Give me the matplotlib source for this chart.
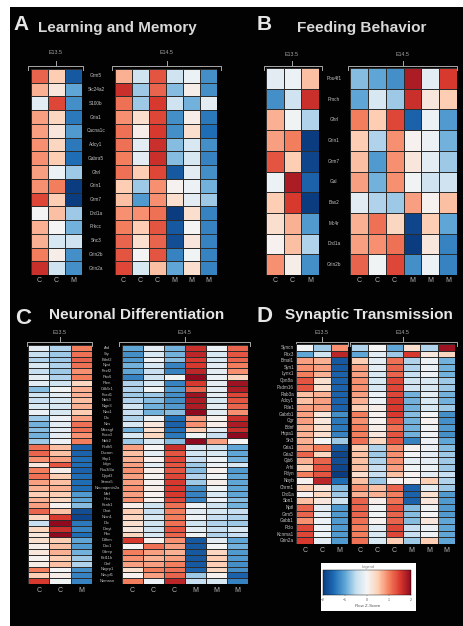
import matplotlib
matplotlib.use('Agg')
import matplotlib.pyplot as plt
import numpy as np
from matplotlib.cm import ScalarMappable
from matplotlib.colors import LinearSegmentedColormap, Normalize

plt.rcParams['font.family'] = ['Liberation Sans', 'DejaVu Sans']

W, H = 463, 626

samples_e13 = ['C', 'C', 'M']
samples_e14 = ['C', 'C', 'C', 'M', 'M', 'M']

# panel A
genes_a = ['Grm5', 'Slc24a2', 'S100b', 'Gria1', 'Cacna1c', 'Adcy1', 'Gabra5', 'Ghrl',
           'Grin1', 'Grm7', 'Drd1a', 'Prkcc', 'Shc3', 'Grin2b', 'Grin2a']
a_e13 = [[1.2, .5, -1.7], [.7, .2, -1.0], [-.2, 1.4, -1.2], [.8, .4, -1.4], [.8, .2, -1.1],
         [.9, .4, -1.4], [.9, .5, -1.5], [.8, -.1, -.7], [.9, 1.0, -2.0], [1.4, .5, -2.0],
         [0, .6, -.7], [.7, 0, -.9], [.7, -.3, -.4], [1.0, .1, -1.2], [1.6, -.4, -1.2]]
a_e14 = [[.7, -.4, 1.3, -.4, -.1, -1.2], [1.6, -.7, 1.2, -.8, .1, -1.2], [1.1, -.7, 1.5, -.4, -.9, -.2],
         [.9, .3, 1.4, -1.2, .1, -1.4], [1.1, .1, 1.5, -1.2, .3, -1.5], [1.1, -.2, 1.6, -.8, -.3, -1.2],
         [1.0, -.2, 1.6, -.8, -.3, -1.3], [1.1, .5, 1.4, -1.7, -.2, -1.2], [.5, -.7, .9, .05, -.1, -.9],
         [.6, -1.1, .9, .3, -.2, -.7], [.9, .9, 1.1, -2, .3, -1.3], [1.0, .5, 1.3, -1.7, 0, -1.3],
         [1.2, .3, 1.2, -1.8, .2, -1.3], [1.3, 0, 1.3, -1.3, -.05, -1.3], [1.4, -.3, .6, -1.0, .3, -1.3]]

# panel B
genes_b = ['Pou4f1', 'Pmch', 'Ghrl', 'Grin1', 'Grm7', 'Gal', 'Bax2', 'Mc4r', 'Drd1a', 'Grin2b']
b_e13 = [[-.2, -.1, .6], [-1.2, -.4, 1.6], [.7, -.05, -.6], [.8, 1.0, -2], [1.3, .5, -1.9],
         [-.1, 1.8, -1.6], [.5, 1.5, -2], [.3, .7, -1.1], [.05, .6, -.6], [.9, .1, -1.2]]
b_e14 = [[-.8, -1.0, -1.2, 1.8, -.2, 1.5], [-1.0, -.3, -.7, 1.6, .2, .5], [1.0, .5, 1.4, -1.6, -.1, -1.1],
         [.5, -.6, .9, .05, -.1, -.9], [.6, -1.1, .9, .2, -.2, -.7], [.8, -.9, .9, -.05, -.4, -.4],
         [-.2, -.6, -.7, .8, .05, .6], [.7, 1.1, .4, -1.9, .5, -1], [.8, .9, 1.1, -2, .2, -1.3],
         [1.2, -.05, 1.4, -1.2, -.1, -1.3]]

# panel C
genes_c = ['Ard', 'Sty', 'Bdnf2', 'Nyst', 'Fezf2', 'Pax6', 'Pten', 'Cdk5r1', 'Foxd1', 'Ntrk3',
           'Nlgn3', 'Neo1', 'Dlx', 'Nes', 'Mecsgf', 'Foxo3', 'Ntrk2', 'Pcdh5', 'Dscam', 'Sfrp1',
           'Ldgn', 'Pou3f3a', 'Dpyd3', 'Sema5', 'Neurogenin2a', 'Mef', 'Hes', 'Kcnb1', 'Chat', 'Nrxn1',
           'Dlx', 'Dmyt', 'Pbx', 'Ddhm', 'Dac1', 'Gdnrp', 'Bcl11b', 'Ctnf', 'Nagrp1', 'Neupf1', 'Nnmasn']
c_e13 = [[-.2, -.6, 1.0], [-.5, -.7, 1.1], [-.6, -.7, 1.2], [-.3, -.6, 1.1], [-.5, -.7, .9],
         [-.2, -.6, 1.0], [-.2, -.4, .4], [-.8, -.05, .7], [-.4, -.2, .7], [-.5, -.3, .6],
         [-.3, -.3, .7], [-.1, -.3, .5], [-.7, -.1, .8], [-.9, -.2, 1.1], [-.8, -.2, 1.1],
         [-.9, -.2, .9], [-.7, -.1, 1.0], [1.1, .6, -1.6], [1.2, .6, -1.6], [.9, .8, -1.5],
         [.2, 1.3, -1.5], [1.0, .1, -1.6], [1.1, .5, -1.5], [.8, .6, -1.5], [.7, .7, -1.5],
         [.5, .5, -1.1], [.7, .4, -1.0], [.8, .05, -.8], [1.2, .6, -1.8], [.4, 1.5, -1.9],
         [-.5, 2.0, -1.4], [.4, 1.6, -1.3], [.2, 2.0, -1.5], [.3, .5, -1.0], [.1, .6, -1.1],
         [.2, .7, -.9], [.05, .5, -.7], [.1, .6, -.6], [1.0, 0, -1.2], [.5, .1, -1.3], [1.5, -.05, -1.3]]
c_e14 = [[-1.0, -.2, -.9, 1.6, -.1, 1.2], [-1.2, -.3, -.9, 1.7, -.3, 1.3], [-1.1, -.1, -.8, 1.5, -.3, 1.2],
         [-.9, -.3, -1.3, 1.5, -.2, 1.0], [-1.0, -.5, -1.3, 1.7, -.2, .9], [-1.3, -.4, -.05, 2, -.1, .4],
         [-.6, -.3, -1.3, 1.5, -.2, 1.9], [-.6, -.05, -1.1, 1.2, -.2, 1.8], [-.7, -.7, -1.2, 1.9, -.2, 1.4],
         [-.6, -.8, -1.2, 1.8, -.3, 1.3], [-.4, -.9, -1.1, 1.8, -.2, 1.2], [-.5, -.9, -.8, 2.0, -.2, .9],
         [-.6, -.1, -1.5, .8, .05, 1.6], [-.3, .2, -1.6, .9, .1, 1.8], [-.9, .3, -1.5, .5, -.2, 1.6],
         [-.3, .4, -1.4, -.05, -.5, 2.1], [-.7, -.3, -.8, 2.0, .8, 0], [.8, 0, 1.6, -.3, -.4, -1.0],
         [.6, -.2, 1.3, -.4, -.3, -1.0], [.7, .05, 1.4, -.5, -.1, -.9], [.8, -.2, 1.3, -.7, -.1, -.3],
         [.9, .1, 1.3, -.8, .05, -1.1], [.8, .05, 1.4, -.6, -.05, -1.0], [.8, .05, 1.5, -.7, .1, -1.0],
         [.9, .1, 1.5, -1.2, -.05, -1.0], [.8, .05, 1.5, -1.3, -.3, -1.0], [.9, .05, 1.4, -1.3, -.1, -.8],
         [.1, -.4, 1.1, -.1, -.4, -.9], [.5, -.5, 1.0, -.2, -.3, -.5], [.4, -.3, 1.0, -.1, -.5, -.6],
         [.3, -.4, 1.1, -.4, -.6, -.7], [.2, -.4, 1.3, -.2, -.5, -.3], [.4, -.3, 1.2, -.05, -.6, -.5],
         [1.5, .05, .9, -1.7, -.2, -1.0], [0, 1.1, .8, -1.7, 0, -.9], [1.0, .8, .7, -1.7, .4, -1.1],
         [.9, .7, .8, -1.7, .5, -1.1], [.8, .8, 1.0, -1.7, .5, -1.2], [.3, 1.0, 1.1, -1.6, .4, -1.2],
         [.05, .8, 1.2, -.7, .05, -1.6], [1.0, -.1, 1.7, -.5, -.3, -1.3]]

# panel D
genes_d = ['Syncn', 'Pitx3', 'Bmal1', 'Syn1', 'Lynx1', 'Cpn8a', 'Psdm16', 'Rab3a', 'Adcy1', 'Pde1',
           'Gabrb1', 'Cgr', 'Bdnf', 'Hspa1', 'Sh3', 'Gria1', 'Gria2', 'Gjb6', 'Arhl', 'Pdyn',
           'Nbyb', 'Chrm1', 'Drd1a', 'Sbn1', 'Nptl', 'Grm5', 'Gabb1', 'Pclo', 'Kcnma1', 'Grin2a']
d_e13 = [[-.05, -.7, .9], [-1.0, -.4, 1.7], [.8, .7, -1.7], [.9, .8, -1.7], [1.0, .7, -1.6],
         [1.3, .3, -1.6], [1.3, .3, -1.6], [.6, .7, -1.6], [.6, .8, -1.6], [.8, .8, -1.6],
         [.8, .2, -1.2], [.8, .2, -1.4], [.7, .3, -1.4], [.7, .3, -1.3], [.7, 0, -.7],
         [.8, 1.0, -1.7], [1.2, .4, -1.9], [.7, 1.2, -1.8], [.5, 1.3, -1.9], [1.0, 1.3, -2.1],
         [.05, 1.7, -1.5], [.5, .2, -.8], [.05, .4, -.7], [.6, .2, -.4], [1.2, -.2, -1.1],
         [1.2, -.2, -1.1], [.9, -.1, -1.1], [1.4, -.1, -1.1], [1.4, -.1, -1.1], [1.5, -.2, -1.1]]
d_e14 = [[-.6, 0, -1.0, .3, -.6, 1.9], [-1.0, -.2, -.7, 1.5, .2, .4], [.5, -.2, 1.1, -.6, -.1, -.9],
         [.8, -.2, 1.2, -.6, -.1, -.9], [.8, -.3, 1.2, -.5, -.1, -.9], [.9, -.3, 1.4, -.4, -.3, -.7],
         [.9, -.3, 1.4, -.4, -.3, -.7], [.8, -.1, 1.4, -.9, -.2, -.9], [.7, -.1, 1.5, -.9, -.3, -.9],
         [.5, .1, 1.5, -.9, -.3, -.7], [1.0, .05, 1.5, -.8, 0, -1.2], [.9, .05, 1.3, -.9, .05, -1.2],
         [1.0, .1, 1.1, -.9, -.05, -1.1], [1.0, .2, 1.3, -.9, -.05, -1.2], [1.1, .4, 1.3, -1.3, -.1, -1.0],
         [.5, -.6, .9, .05, -.1, -.8], [.6, -.7, .9, -.05, -.2, -.7], [.6, -.6, .9, -.2, -.2, -.7],
         [.6, -.5, .8, -.05, -.1, -.7], [.3, -.5, .6, .05, -.2, -.5], [.6, -.7, .05, .05, .5, -.6],
         [.9, .6, 1.2, -1.6, -.2, -.7], [.7, .7, 1.0, -1.6, .3, -1.1], [1.2, .1, 1.1, -1.6, .2, -1.1],
         [1.2, -.05, 1.3, -.8, -.05, -1.1], [1.2, -.05, 1.2, -.8, 0, -1.1], [1.1, .05, 1.2, -.8, .2, -1.0],
         [1.0, -.2, 1.4, -.5, -.1, -1.0], [1.0, -.3, 1.4, -.5, -.1, -1.0], [1.1, -.3, .5, -.7, .5, -1.0]]

fig = plt.figure(figsize=(W / 100, H / 100), dpi=100, facecolor='white')
norm = Normalize(-2, 2)
cmap = LinearSegmentedColormap.from_list('zscore', ['#0b3c80', '#1f6db5', '#5ea6d6', '#c6dff0', '#f5f5f5',
                                                    '#fdd0b5', '#f4805f', '#d93a2f', '#8f0a1e'])
FG = '#e6e6e6'


# all layout is in reference pixels, this converts to figure fractions
def pixel_axes(x0, y0, x1, y1):
    ax = fig.add_axes([x0 / W, 1 - y1 / H, (x1 - x0) / W, (y1 - y0) / H])
    return ax


# overlay for the black background, text and brackets
bg = pixel_axes(0, 0, W, H)
bg.set_xlim(0, W)
bg.set_ylim(H, 0)
bg.axis('off')
bg.fill_between([10, W], 7, H, color='#020202', lw=0)


def heatmap(values, x0, y0, x1, y1, samples, label_y, edge='#2c2c2c'):
    ax = pixel_axes(x0, y0, x1, y1)
    ax.pcolormesh(np.array(values), cmap=cmap, norm=norm, edgecolors=edge, linewidth=0.6)
    ax.invert_yaxis()
    ax.axis('off')
    col_w = (x1 - x0) / len(samples)
    for i, s in enumerate(samples):
        bg.text(x0 + col_w * (i + 0.5), label_y, s, color='#b5b5b5', fontsize=5,
                ha='center', va='center')


def bracket(x0, x1, y, stem_x, label, label_y):
    bg.plot([x0, x0, x1, x1], [y + 4, y, y, y + 4], color='#a8a8a8', lw=0.7)
    bg.plot([stem_x, stem_x], [y - 5, y], color='#a8a8a8', lw=0.7)
    bg.text(stem_x, label_y, label, color='#a8a8a8', fontsize=3.8, ha='center', va='center')


def gene_labels(genes, x, y0, y1, ha='center', size=3.4):
    row_h = (y1 - y0) / len(genes)
    for i, g in enumerate(genes):
        bg.text(x, y0 + row_h * (i + 0.5), g, color='#c4c4c4', fontsize=size, ha=ha, va='center')


# A
heatmap(a_e13, 31, 69, 82, 275, samples_e13, 280)
heatmap(a_e14, 115, 69, 217, 275, samples_e14, 280)
bracket(28, 83, 66, 56, 'E13.5', 53)
bracket(112, 221, 66, 167, 'E14.5', 53)
gene_labels(genes_a, 96, 69, 275)
bg.text(13, 25, 'A', color=FG, fontsize=15, fontweight='bold', va='center')
bg.text(38, 28, 'Learning and Memory', color='#d8d8d8', fontsize=11, fontweight='bold', va='center')

# B
heatmap(b_e13, 266, 68, 319, 275, samples_e13, 280)
heatmap(b_e14, 350, 68, 457, 275, samples_e14, 280)
bracket(264, 322, 66, 292, 'E13.5', 55)
bracket(348, 457, 66, 403, 'E14.5', 55)
gene_labels(genes_b, 334, 68, 275)
bg.text(257, 24, 'B', color=FG, fontsize=15, fontweight='bold', va='center')
bg.text(297, 28, 'Feeding Behavior', color='#d8d8d8', fontsize=11.1, fontweight='bold', va='center')

# C
heatmap(c_e13, 28, 345, 92, 584, samples_e13, 590)
heatmap(c_e14, 122, 345, 248, 584, samples_e14, 590)
bracket(27, 92, 342, 60, 'E13.5', 332)
bracket(119, 250, 342, 185, 'E14.5', 332)
gene_labels(genes_c, 107, 345, 584, size=2.9)
bg.text(15, 318, 'C', color=FG, fontsize=16, fontweight='bold', va='center')
bg.text(49, 315, 'Neuronal Differentiation', color=FG, fontsize=11.1, fontweight='bold', va='center')

# D
heatmap(d_e13, 296, 344, 348, 544, samples_e13, 550)
heatmap(d_e14, 351, 344, 455, 544, samples_e14, 550)
bracket(296, 348, 342, 322, 'E13.5', 332)
bracket(350, 457, 342, 403, 'E14.5', 332)
gene_labels(genes_d, 294, 344, 544, ha='right', size=3.3)
bg.text(257, 317, 'D', color=FG, fontsize=16, fontweight='bold', va='center')
bg.text(285, 315, 'Synaptic Transmission', color=FG, fontsize=11.1, fontweight='bold', va='center')

# colour scale box
bg.fill_between([321, 416], 563, 611, color='white', lw=0)
cax = pixel_axes(323, 570, 411, 595)
cb = fig.colorbar(ScalarMappable(norm=norm, cmap=cmap), cax=cax, orientation='horizontal')
cb.set_ticks([-2, -1, 0, 1, 2])
cb.ax.tick_params(labelsize=2.5, length=1, width=0.3, pad=1, colors='#555555')
cb.outline.set_linewidth(0.3)
bg.text(368, 567, 'Legend', color='#777777', fontsize=2.8, ha='center', va='center')
bg.text(368, 606, 'Row Z-Score', color='#555555', fontsize=3.2, ha='center', va='center')

fig.savefig('out.png', dpi=100, facecolor='white')
